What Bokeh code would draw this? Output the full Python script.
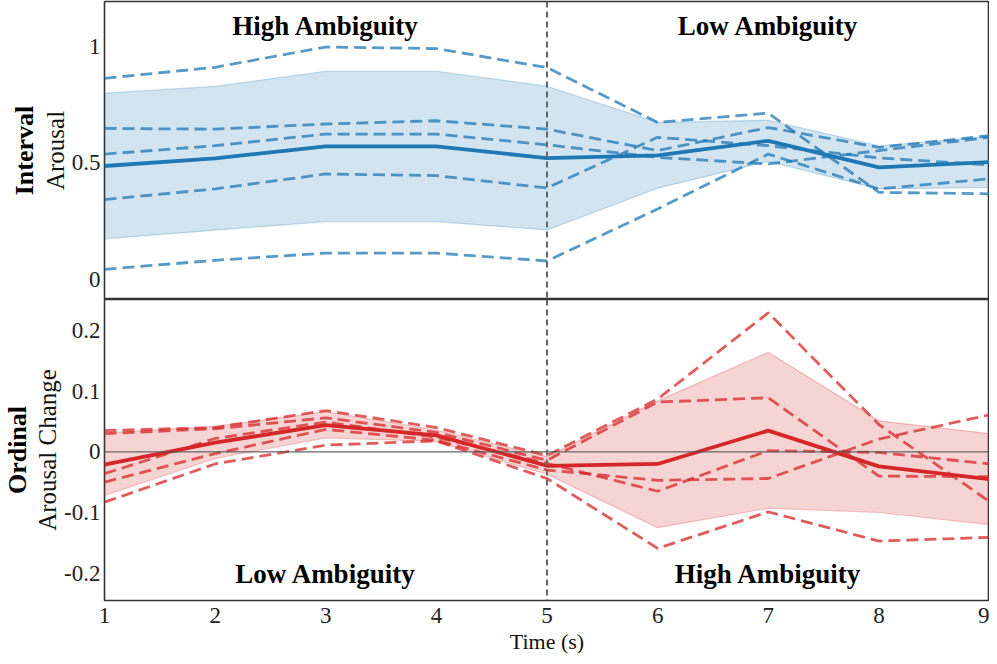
from bokeh.plotting import figure
from bokeh.layouts import column
from bokeh.models import Range1d, Span, Title, FixedTicker, ColumnDataSource
from bokeh.embed import file_html
from bokeh.resources import INLINE
from bokeh.core.properties import value

# ---------------- data ----------------
time_s = [1, 2, 3, 4, 5, 6, 7, 8, 9]

# Interval (top panel): individual runs, mean and band
interval_run_1 = [0.863, 0.910, 0.997, 0.990, 0.909, 0.674, 0.714, 0.374, 0.368]
interval_run_2 = [0.648, 0.645, 0.667, 0.681, 0.645, 0.553, 0.652, 0.567, 0.617]
interval_run_3 = [0.538, 0.574, 0.624, 0.624, 0.578, 0.524, 0.496, 0.553, 0.610]
interval_run_4 = [0.343, 0.389, 0.453, 0.446, 0.393, 0.610, 0.574, 0.522, 0.491]
interval_run_5 = [0.044, 0.083, 0.114, 0.114, 0.080, 0.303, 0.538, 0.389, 0.432]
interval_mean = [0.487, 0.520, 0.571, 0.571, 0.521, 0.533, 0.595, 0.481, 0.504]
interval_upper = [0.799, 0.828, 0.893, 0.893, 0.829, 0.674, 0.683, 0.573, 0.613]
interval_lower = [0.175, 0.212, 0.249, 0.249, 0.213, 0.392, 0.507, 0.389, 0.395]

# Ordinal (bottom panel)
ordinal_run_1 = [0.035, 0.040, 0.068, 0.040, -0.006, 0.087, 0.229, 0.045, -0.082]
ordinal_run_2 = [0.030, 0.038, 0.056, 0.032, -0.014, 0.082, 0.089, -0.040, -0.041]
ordinal_run_3 = [-0.036, 0.022, 0.049, 0.024, -0.019, -0.065, 0.002, -0.001, -0.020]
ordinal_run_4 = [-0.050, -0.003, 0.037, 0.019, -0.030, -0.047, -0.044, 0.021, 0.061]
ordinal_run_5 = [-0.083, -0.020, 0.011, 0.018, -0.044, -0.159, -0.099, -0.147, -0.141]
ordinal_mean = [-0.021, 0.015, 0.044, 0.027, -0.023, -0.020, 0.035, -0.024, -0.045]
ordinal_upper = [0.031, 0.042, 0.066, 0.036, -0.008, 0.084, 0.164, 0.051, 0.030]
ordinal_lower = [-0.072, -0.011, 0.023, 0.017, -0.037, -0.125, -0.093, -0.100, -0.120]

region_x = [3, 7]
top_region_labels = ["High Ambiguity", "Low Ambiguity"]
bottom_region_labels = ["Low Ambiguity", "High Ambiguity"]
switch_time = 5

top_ticks = [0, 0.5, 1]
top_tick_labels = {0: "0", 0.5: "0.5", 1: "1"}
bottom_ticks = [-0.2, -0.1, 0, 0.1, 0.2]
bottom_tick_labels = {-0.2: "-0.2", -0.1: "-0.1", 0: "0", 0.1: "0.1", 0.2: "0.2"}

# ---------------- style ----------------
FONT = "Liberation Serif"
BLUE = "#1f77b4"
RED = "#d62728"
W = 989
LEFT = 96


def style(p, ticks, labels, ylabel, title):
    p.grid.visible = False
    p.outline_line_color = "#333333"
    p.outline_line_width = 1.6
    p.background_fill_color = "white"
    p.border_fill_color = "white"
    for ax in p.axis:
        ax.axis_line_color = None
        ax.major_tick_line_color = None
        ax.minor_tick_line_color = None
        ax.major_tick_in = 0
        ax.major_tick_out = 0
        ax.minor_tick_out = 0
        ax.major_label_text_font = FONT
        ax.major_label_text_font_size = "23px"
        ax.major_label_text_color = "#222222"
        ax.axis_label_text_font = FONT
        ax.axis_label_text_font_style = "normal"
        ax.axis_label_text_color = "#111111"
    p.yaxis.ticker = FixedTicker(ticks=ticks)
    p.yaxis.major_label_overrides = labels
    p.yaxis.axis_label = ylabel
    p.yaxis.axis_label_text_font_size = "25px"
    p.yaxis.axis_label_standoff = 0
    p.yaxis.major_label_standoff = 4
    p.add_layout(Title(text=title, align="center", text_font=FONT,
                       text_font_size="26px", text_font_style="bold",
                       text_color="#000000", standoff=0), "left")


def draw(p, runs, mean, upper, lower, color):
    src = ColumnDataSource(dict(t=time_s, m=mean, u=upper, l=lower))
    p.varea(x="t", y1="l", y2="u", source=src, fill_color=color, fill_alpha=0.2)
    p.line("t", "u", source=src, line_color=color, line_alpha=0.25, line_width=1.2)
    p.line("t", "l", source=src, line_color=color, line_alpha=0.25, line_width=1.2)
    for r in runs:
        p.line(time_s, r, line_color=color, line_alpha=0.75, line_width=2.8,
               line_dash="12 6")
    p.line("t", "m", source=src, line_color=color, line_width=3.8)


# ---------------- top panel ----------------
top = figure(width=W, height=299, x_range=Range1d(1, 9),
             y_range=Range1d(-0.085, 1.192), x_axis_location=None,
             output_backend="svg", toolbar_location=None,
             min_border_left=LEFT, min_border_right=0, min_border_top=1,
             min_border_bottom=0)
style(top, top_ticks, top_tick_labels, "Arousal", "Interval")
draw(top, [interval_run_1, interval_run_2, interval_run_3, interval_run_4,
           interval_run_5], interval_mean, interval_upper, interval_lower, BLUE)
top.add_layout(Span(location=switch_time, dimension="height", line_color="#666666",
                    line_width=2, line_dash="6 4"))
top.text(x=region_x, y=[1.085, 1.085], text=top_region_labels,
         text_font=value(FONT), text_font_size="27px", text_font_style="bold",
         text_align="center", text_baseline="middle", text_color="#000000")

# ---------------- bottom panel ----------------
bot = figure(width=W, height=357, x_range=top.x_range,
             y_range=Range1d(-0.245, 0.251),
             output_backend="svg", toolbar_location=None,
             min_border_left=LEFT, min_border_right=0, min_border_top=0,
             min_border_bottom=0)
style(bot, bottom_ticks, bottom_tick_labels, "Arousal Change", "Ordinal")
bot.xaxis.ticker = FixedTicker(ticks=time_s)
bot.xaxis.axis_label = "Time (s)"
bot.xaxis.axis_label_text_font_size = "22px"
bot.xaxis.major_label_text_font_size = "23px"
bot.xaxis.major_label_standoff = 7
bot.xaxis.axis_label_standoff = 3
bot.add_layout(Span(location=0, dimension="width", line_color="#555555",
                    line_width=1.2, line_alpha=0.9))
draw(bot, [ordinal_run_1, ordinal_run_2, ordinal_run_3, ordinal_run_4,
           ordinal_run_5], ordinal_mean, ordinal_upper, ordinal_lower, RED)
bot.add_layout(Span(location=switch_time, dimension="height", line_color="#666666",
                    line_width=2, line_dash="6 4"))
bot.text(x=region_x, y=[-0.202, -0.202], text=bottom_region_labels,
         text_font=value(FONT), text_font_size="27px", text_font_style="bold",
         text_align="center", text_baseline="middle", text_color="#000000")

layout = column(top, bot, spacing=0)
open("out.html", "w").write(file_html(layout, INLINE))
